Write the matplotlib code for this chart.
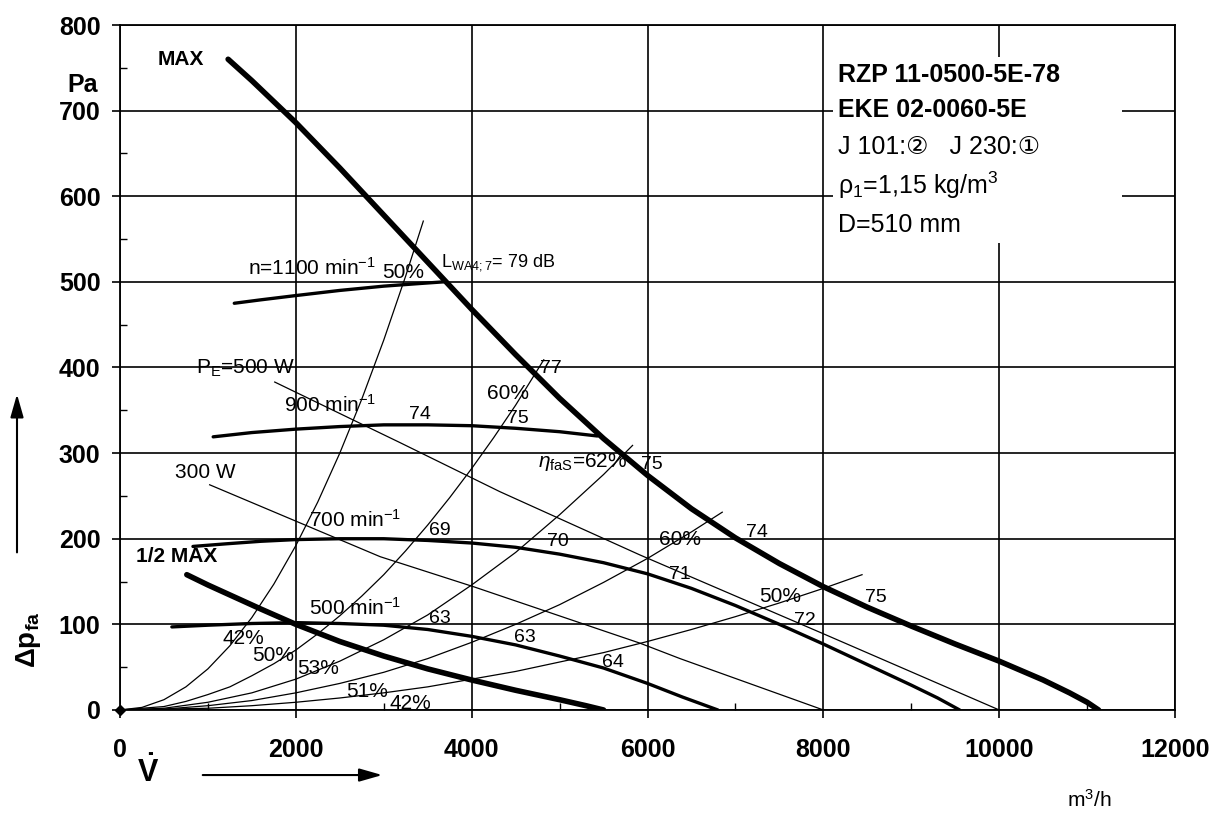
import numpy as np
import matplotlib
matplotlib.use('Agg')
import matplotlib.pyplot as plt
from matplotlib.patches import Rectangle

plt.rcParams['font.family'] = ['Liberation Sans', 'DejaVu Sans']
plt.rcParams['mathtext.fontset'] = 'custom'
plt.rcParams['mathtext.rm'] = 'Liberation Sans'
plt.rcParams['mathtext.it'] = 'Liberation Sans:italic'
plt.rcParams['mathtext.bf'] = 'Liberation Sans:bold'

# Kennlinien (x in m3/h, y in Pa)
max_x = [1230, 1500, 2000, 2500, 3000, 3500, 4000, 4500, 5000, 5500, 6000, 6500, 7000,
         7500, 8000, 8500, 9000, 9500, 10000, 10500, 10800, 11000, 11130]
max_y = [760, 735, 686, 633, 578, 523, 468, 415, 364, 317, 274, 235, 201,
         171, 144, 120, 98, 77, 57, 35, 20, 9, 0]

half_x = [760, 1000, 1300, 1600, 2000, 2500, 3000, 3500, 4000, 4500, 5000, 5300, 5500]
half_y = [158, 146, 132, 118, 100, 80, 63, 48, 35, 23, 12, 5, 0]

n1100_x = [1300, 1600, 2000, 2500, 3000, 3400, 3680]
n1100_y = [475, 479, 484, 490, 495, 498, 500]

n900_x = [1060, 1500, 2000, 2500, 3000, 3500, 4000, 4500, 5000, 5430]
n900_y = [319, 324, 328, 331, 333, 333, 332, 329, 325, 320]

n700_x = [830, 1200, 1600, 2000, 2500, 3000, 3500, 4000, 4500, 5000, 5500, 6000,
          6500, 7000, 7500, 8000, 8500, 9000, 9300, 9550]
n700_y = [191, 194, 197, 199, 200, 200, 198, 195, 190, 182, 172, 159,
          142, 122, 100, 77, 53, 29, 14, 0]

n500_x = [590, 1000, 1500, 2000, 2500, 3000, 3500, 4000, 4500, 5000, 5500, 6000, 6400, 6800]
n500_y = [97, 99, 101, 102, 101, 99, 94, 86, 76, 63, 49, 31, 15, 0]

# Anlagenkennlinien (Wirkungsgrad)
eta1_x = [0, 250, 500, 750, 1000, 1250, 1500, 1750, 2000, 2250, 2500, 2750, 3000, 3250, 3450]
eta1_y = [0, 3, 12, 27, 48, 75, 108, 147, 192, 243, 300, 363, 432, 507, 571]
eta2_x = [0, 500, 750, 1000, 1250, 1500, 1750, 2000, 2250, 2500, 2750, 3000, 3250,
          3500, 3750, 4000, 4250, 4500, 4820]
eta2_y = [0, 4, 10, 18, 27, 40, 54, 70, 89, 110, 133, 158, 186,
          216, 248, 282, 318, 356, 409]
eta3_x = [0, 500, 1000, 1500, 2000, 2500, 3000, 3500, 4000, 4500, 5000, 5500, 5830]
eta3_y = [0, 2, 9, 20, 36, 57, 82, 111, 146, 184, 228, 275, 309]
eta4_x = [0, 500, 1000, 1500, 2000, 2500, 3000, 3500, 4000, 4500, 5000, 5500, 6000, 6500, 6850]
eta4_y = [0, 1, 5, 11, 20, 31, 44, 60, 79, 100, 123, 149, 177, 208, 231]
eta5_x = [0, 1000, 1500, 2000, 2500, 3000, 3500, 4000, 4500, 5000, 5500, 6000, 6500,
          7000, 7500, 8000, 8440]
eta5_y = [0, 2, 5, 9, 14, 20, 27, 36, 45, 56, 67, 80, 94,
          109, 125, 142, 158]

# Leistungslinien
pe500_x = [1760, 3190, 4320, 5915, 8000, 10000]
pe500_y = [383, 312, 255, 181, 89, 0]
pe300_x = [1020, 2960, 4020, 5915, 6370, 8000]
pe300_y = [263, 179, 144, 78, 60, 0]

x_ticks = [0, 2000, 4000, 6000, 8000, 10000, 12000]
y_ticks = [0, 100, 200, 300, 400, 500, 600, 700, 800]

fig = plt.figure(figsize=(12.23, 8.17), dpi=100)
ax = fig.add_axes([0.0981, 0.1310, 0.8627, 0.8384])
ax.set_xlim(0, 12000)
ax.set_ylim(0, 800)
ax.set_xticks(x_ticks)
ax.set_yticks(y_ticks)
ax.set_xticks(np.arange(1000, 12000, 2000), minor=True)
ax.set_yticks(np.arange(50, 800, 100), minor=True)
ax.grid(True, which='major', color='black', lw=1.2)
ax.set_axisbelow(True)
for s in ax.spines.values():
    s.set_linewidth(1.3)
ax.tick_params(which='major', direction='out', length=6, width=1.2, labelsize=18)
ax.tick_params(axis='x', which='major', pad=14)
ax.tick_params(axis='y', which='major', pad=8)
ax.tick_params(which='minor', direction='in', length=5, width=1.0)
for lab in ax.get_xticklabels() + ax.get_yticklabels():
    lab.set_fontweight('bold')

thin = dict(color='black', lw=0.9, zorder=2)
for xs, ys in [(eta1_x, eta1_y), (eta2_x, eta2_y), (eta3_x, eta3_y), (eta4_x, eta4_y),
               (eta5_x, eta5_y), (pe500_x, pe500_y), (pe300_x, pe300_y)]:
    ax.plot(xs, ys, **thin)

for xs, ys in [(n1100_x, n1100_y), (n900_x, n900_y), (n700_x, n700_y), (n500_x, n500_y)]:
    ax.plot(xs, ys, color='black', lw=2.4, zorder=3, solid_capstyle='round', solid_joinstyle='round')
ax.plot(max_x, max_y, color='black', lw=4, zorder=4, solid_capstyle='round', solid_joinstyle='round')
ax.plot(half_x, half_y, color='black', lw=4, zorder=4, solid_capstyle='round', solid_joinstyle='round')
ax.plot(0, 0, 'D', ms=5, color='black', clip_on=False, zorder=5)

# Infobox
ax.add_patch(Rectangle((8110, 545), 3290, 218, facecolor='white', edgecolor='none', zorder=1.5))
info = [('RZP 11-0500-5E-78', 'bold', 742), ('EKE 02-0060-5E', 'bold', 701),
        ('J 101:②   J 230:①', 'normal', 658), ('ρ$_1$=1,15 kg/m$^3$', 'normal', 613),
        ('D=510 mm', 'normal', 566)]
for t, w, yy in info:
    ax.text(8170, yy, t, fontsize=18, fontweight=w, va='center', ha='left', zorder=6)

labels = [
    ('MAX', 694, 760, 15, 'bold'),
    ('1/2 MAX', 648, 179, 15, 'bold'),
    ('n=1100 min$^{-1}$', 2184, 516, 15, 'normal'),
    ('50%', 3219, 511, 15, 'normal'),
    ('P$_\\mathrm{E}$=500 W', 1422, 399, 15, 'normal'),
    ('900 min$^{-1}$', 2389, 356, 15, 'normal'),
    ('300 W', 967, 277, 15, 'normal'),
    ('700 min$^{-1}$', 2673, 222, 15, 'normal'),
    ('500 min$^{-1}$', 2673, 119, 15, 'normal'),
    ('74', 3412, 345, 14, 'normal'),
    ('77', 4903, 399, 14, 'normal'),
    ('60%', 4414, 370, 15, 'normal'),
    ('75', 4528, 341, 14, 'normal'),
    ('75', 6052, 287, 14, 'normal'),
    ('$\\eta_\\mathrm{faS}$=62%', 5267, 290, 15, 'normal'),
    ('69', 3640, 210, 14, 'normal'),
    ('70', 4982, 197, 14, 'normal'),
    ('60%', 6370, 199, 15, 'normal'),
    ('74', 7246, 207, 14, 'normal'),
    ('71', 6370, 158, 14, 'normal'),
    ('50%', 7508, 132, 15, 'normal'),
    ('72', 7792, 105, 14, 'normal'),
    ('75', 8600, 131, 14, 'normal'),
    ('63', 3640, 107, 14, 'normal'),
    ('63', 4607, 85, 14, 'normal'),
    ('64', 5608, 56, 14, 'normal'),
    ('42%', 1399, 84, 15, 'normal'),
    ('50%', 1740, 64, 15, 'normal'),
    ('53%', 2252, 49, 15, 'normal'),
    ('51%', 2810, 21, 15, 'normal'),
    ('42%', 3299, 8, 15, 'normal'),
]
for t, x, y, fs, w in labels:
    ax.text(x, y, t, fontsize=fs, fontweight=w, ha='center', va='center', zorder=6)
ax.text(3650, 522, 'L$_\\mathrm{WA4;7}$= 79 dB', fontsize=13, ha='left', va='center', zorder=6)

# Achsbeschriftungen
ax.text(-430, 730, 'Pa', fontsize=18, fontweight='bold', ha='center', va='center')
ax.text(-0.087, 0.102, 'Δp$_\\mathbf{fa}$', fontsize=20, fontweight='bold', rotation=90,
        ha='center', va='center', transform=ax.transAxes)
ax.annotate('', xy=(-0.0976, 0.465), xytext=(-0.0976, 0.226), xycoords='axes fraction',
            arrowprops=dict(arrowstyle='-|>,head_length=1.4,head_width=0.4', color='black', lw=1.5))
ax.text(0.0265, -0.092, '$\\mathbf{\\dot{V}}$', fontsize=22, ha='center', va='center',
        transform=ax.transAxes)
ax.annotate('', xy=(0.2512, -0.095), xytext=(0.0758, -0.095), xycoords='axes fraction',
            arrowprops=dict(arrowstyle='-|>,head_length=1.4,head_width=0.4', color='black', lw=1.5))
ax.text(0.919, -0.131, 'm$^3$/h', fontsize=15, ha='center', va='center', transform=ax.transAxes)

fig.savefig('out.png', dpi=100)
